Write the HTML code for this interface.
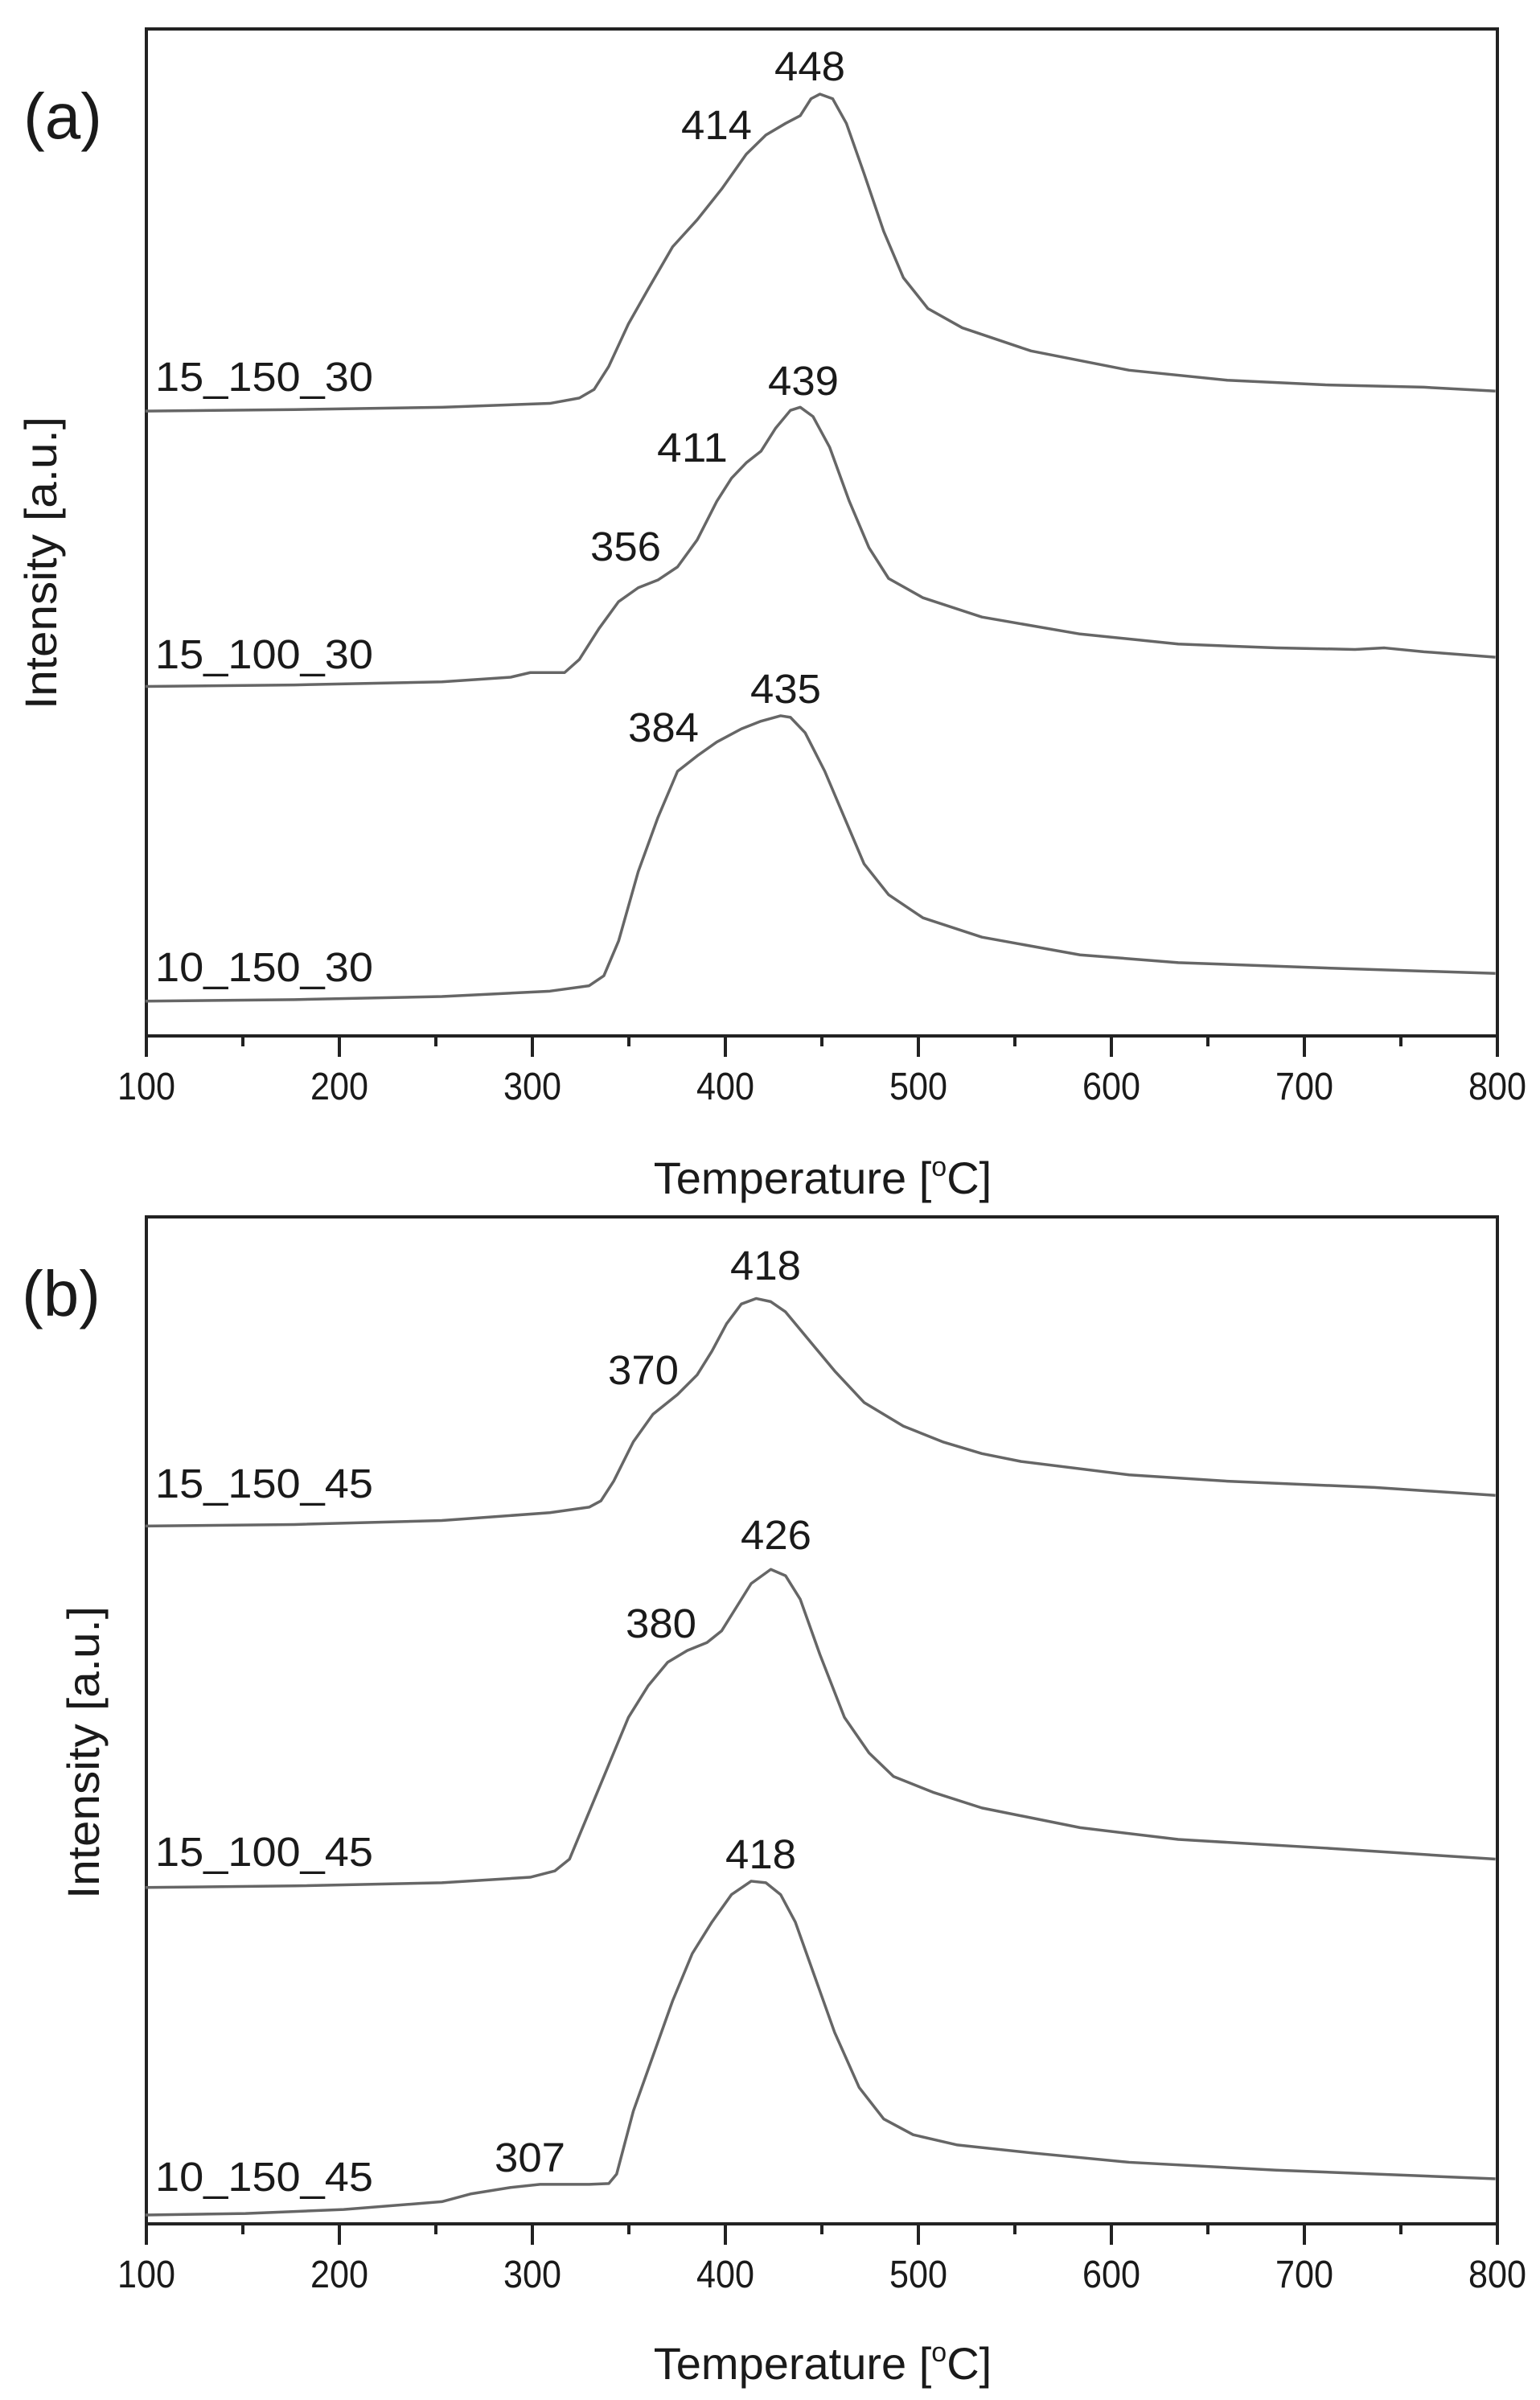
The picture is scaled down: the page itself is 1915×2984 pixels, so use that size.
<!DOCTYPE html>
<html><head><meta charset="utf-8"><style>
html,body{margin:0;padding:0;background:#fff;}
svg{display:block;}
text{font-family:"Liberation Sans",Arial,sans-serif;fill:#1a1a1a;}
</style></head><body>
<svg width="1915" height="2984" viewBox="0 0 1915 2984" xmlns="http://www.w3.org/2000/svg">
<rect width="1915" height="2984" fill="#fff"/>
<!-- Panel a frame -->
<rect x="182" y="36" width="1680" height="1252" fill="none" stroke="#222" stroke-width="4"/>
<rect x="182" y="1513" width="1680" height="1252" fill="none" stroke="#222" stroke-width="4"/>
<g stroke="#222" stroke-width="4">
<path d="M182,1288v26M302,1288v13M422,1288v26M542,1288v13M662,1288v26M782,1288v13M902,1288v26M1022,1288v13M1142,1288v26M1262,1288v13M1382,1288v26M1502,1288v13M1622,1288v26M1742,1288v13M1862,1288v26"/>
<path d="M182,2765v26M302,2765v13M422,2765v26M542,2765v13M662,2765v26M782,2765v13M902,2765v26M1022,2765v13M1142,2765v26M1262,2765v13M1382,2765v26M1502,2765v13M1622,2765v26M1742,2765v13M1862,2765v26"/>
</g>
<g font-size="48" text-anchor="middle">
<text x="182" y="1367" textLength="72" lengthAdjust="spacingAndGlyphs">100</text>
<text x="422" y="1367" textLength="72" lengthAdjust="spacingAndGlyphs">200</text>
<text x="662" y="1367" textLength="72" lengthAdjust="spacingAndGlyphs">300</text>
<text x="902" y="1367" textLength="72" lengthAdjust="spacingAndGlyphs">400</text>
<text x="1142" y="1367" textLength="72" lengthAdjust="spacingAndGlyphs">500</text>
<text x="1382" y="1367" textLength="72" lengthAdjust="spacingAndGlyphs">600</text>
<text x="1622" y="1367" textLength="72" lengthAdjust="spacingAndGlyphs">700</text>
<text x="1862" y="1367" textLength="72" lengthAdjust="spacingAndGlyphs">800</text>
<text x="182" y="2844" textLength="72" lengthAdjust="spacingAndGlyphs">100</text>
<text x="422" y="2844" textLength="72" lengthAdjust="spacingAndGlyphs">200</text>
<text x="662" y="2844" textLength="72" lengthAdjust="spacingAndGlyphs">300</text>
<text x="902" y="2844" textLength="72" lengthAdjust="spacingAndGlyphs">400</text>
<text x="1142" y="2844" textLength="72" lengthAdjust="spacingAndGlyphs">500</text>
<text x="1382" y="2844" textLength="72" lengthAdjust="spacingAndGlyphs">600</text>
<text x="1622" y="2844" textLength="72" lengthAdjust="spacingAndGlyphs">700</text>
<text x="1862" y="2844" textLength="72" lengthAdjust="spacingAndGlyphs">800</text>
</g>
<!-- axis titles -->
<g font-size="56" text-anchor="middle">
<text x="1023" y="1484">Temperature [<tspan font-size="34" dy="-22">o</tspan><tspan dy="22">C]</tspan></text>
<text x="1023" y="2958">Temperature [<tspan font-size="34" dy="-22">o</tspan><tspan dy="22">C]</tspan></text>
<text transform="translate(70,700) rotate(-90)" textLength="364" lengthAdjust="spacingAndGlyphs">Intensity [a.u.]</text>
<text transform="translate(123,2179) rotate(-90)" textLength="364" lengthAdjust="spacingAndGlyphs">Intensity [a.u.]</text>
</g>
<text x="78" y="172" font-size="80" text-anchor="middle">(a)</text>
<text x="76" y="1636" font-size="80" text-anchor="middle">(b)</text>
<!-- curves a -->
<g transform="scale(1.221,0.959)" fill="none" stroke="#666" stroke-width="3.5" vector-effect="non-scaling-stroke" stroke-linejoin="round">
<polyline vector-effect="non-scaling-stroke" points="148,533 300,531 450,528 560,523 590,516 605,505 620,475 640,420 660,375 685,320 710,285 735,245 760,200 780,175 800,160 815,150 826,128 835,122 848,128 862,160 880,225 900,300 920,360 945,400 980,425 1050,455 1150,480 1250,493 1350,499 1450,502 1523,507"/>
<polyline vector-effect="non-scaling-stroke" points="148,890 300,888 450,884 520,878 540,872 575,872 590,855 610,815 630,780 650,762 670,752 690,735 710,700 730,650 745,620 760,600 775,585 790,555 805,532 815,528 828,540 845,580 865,650 885,710 905,750 940,775 1000,800 1100,822 1200,835 1300,840 1380,842 1410,840 1450,845 1523,852"/>
<polyline vector-effect="non-scaling-stroke" points="148,1298 300,1296 450,1292 560,1285 600,1278 615,1265 630,1220 650,1130 670,1060 690,1000 710,980 730,962 755,945 775,935 795,928 805,930 820,950 840,1000 860,1060 880,1120 905,1160 940,1190 1000,1215 1100,1238 1200,1248 1350,1255 1523,1262"/>
</g>
<!-- curves b -->
<g transform="translate(0,1450) scale(1.221,0.979)" fill="none" stroke="#666" stroke-width="3.5" stroke-linejoin="round">
<polyline vector-effect="non-scaling-stroke" points="148,457 300,455 450,450 560,440 600,433 612,425 625,400 645,350 665,315 690,290 710,265 725,235 740,200 755,175 770,168 785,172 800,185 820,215 850,260 880,300 920,330 960,350 1000,365 1040,375 1150,392 1250,400 1400,408 1523,418"/>
<polyline vector-effect="non-scaling-stroke" points="148,916 300,914 450,910 540,903 565,895 580,880 600,820 620,760 640,700 660,660 680,630 700,615 720,605 735,590 750,560 765,530 785,512 800,520 815,550 835,620 860,700 885,745 910,775 950,795 1000,815 1100,840 1200,855 1350,866 1523,880"/>
<polyline vector-effect="non-scaling-stroke" points="148,1332 250,1330 350,1325 420,1318 450,1315 480,1305 520,1297 550,1293 600,1293 620,1292 628,1280 645,1200 665,1130 685,1060 705,1000 725,960 745,925 765,908 780,910 795,925 810,960 830,1030 850,1100 875,1170 900,1210 930,1230 975,1243 1050,1253 1150,1265 1300,1275 1523,1286"/>
</g>
<!-- peak labels -->
<g font-size="51" text-anchor="middle">
<text x="1007" y="100" textLength="88" lengthAdjust="spacingAndGlyphs">448</text>
<text x="891" y="173" textLength="88" lengthAdjust="spacingAndGlyphs">414</text>
<text x="999" y="491" textLength="88" lengthAdjust="spacingAndGlyphs">439</text>
<text x="861" y="574" textLength="88" lengthAdjust="spacingAndGlyphs">411</text>
<text x="778" y="697" textLength="88" lengthAdjust="spacingAndGlyphs">356</text>
<text x="977" y="874" textLength="88" lengthAdjust="spacingAndGlyphs">435</text>
<text x="825" y="922" textLength="88" lengthAdjust="spacingAndGlyphs">384</text>
<text x="952" y="1591" textLength="88" lengthAdjust="spacingAndGlyphs">418</text>
<text x="800" y="1721" textLength="88" lengthAdjust="spacingAndGlyphs">370</text>
<text x="965" y="1926" textLength="88" lengthAdjust="spacingAndGlyphs">426</text>
<text x="822" y="2036" textLength="88" lengthAdjust="spacingAndGlyphs">380</text>
<text x="946" y="2323" textLength="88" lengthAdjust="spacingAndGlyphs">418</text>
<text x="659" y="2700" textLength="88" lengthAdjust="spacingAndGlyphs">307</text>
</g>
<g font-size="51">
<text x="193" y="486" textLength="271" lengthAdjust="spacingAndGlyphs">15_150_30</text>
<text x="193" y="831" textLength="271" lengthAdjust="spacingAndGlyphs">15_100_30</text>
<text x="193" y="1220" textLength="271" lengthAdjust="spacingAndGlyphs">10_150_30</text>
<text x="193" y="1862" textLength="271" lengthAdjust="spacingAndGlyphs">15_150_45</text>
<text x="193" y="2320" textLength="271" lengthAdjust="spacingAndGlyphs">15_100_45</text>
<text x="193" y="2724" textLength="271" lengthAdjust="spacingAndGlyphs">10_150_45</text>
</g>
</svg>
</body></html>
